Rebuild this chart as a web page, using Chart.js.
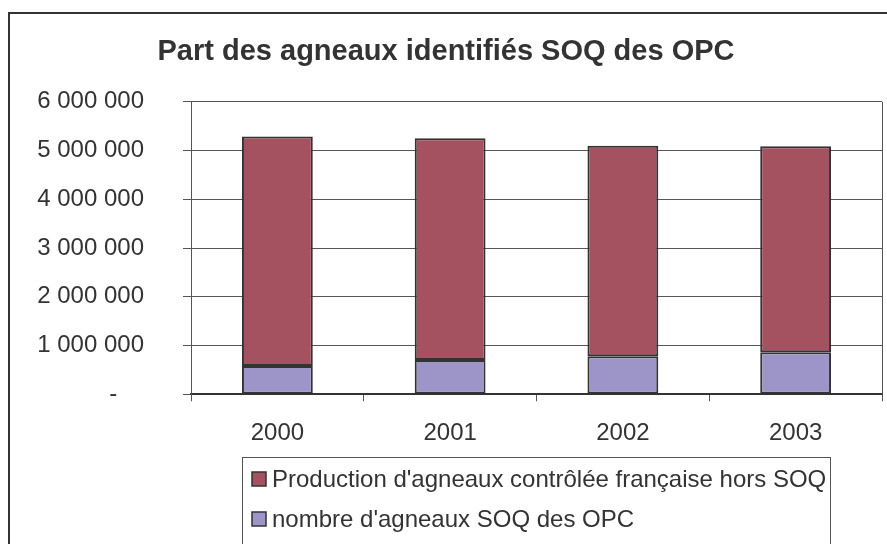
<!DOCTYPE html>
<html>
<head>
<meta charset="utf-8">
<script src="https://cdn.jsdelivr.net/npm/chart.js@4/dist/chart.umd.min.js"></script>
<style>
  html, body { margin: 0; padding: 0; background: #fff; }
  #chart { display: block; }
</style>
</head>
<body>
<canvas id="chart" width="887" height="544"></canvas>
<script>
// values
const years = ['2000', '2001', '2002', '2003']
const soqOpc = [580000, 700000, 780000, 860000]
const horsSoq = [4710000, 4550000, 4320000, 4230000]
const yTicks = [0, 1000000, 2000000, 3000000, 4000000, 5000000, 6000000]

const labelSoq = "nombre d'agneaux SOQ des OPC"
const labelHors = "Production d'agneaux contrôlée française hors SOQ"

const FONT = "'Liberation Sans', Arial, sans-serif"
const TEXT = '#333333'

function formatNumber(v) {
    if (v === 0) return '-    '
    return String(v).replace(/\B(?=(\d{3})+(?!\d))/g, ' ')
}

// outer frame, plot area right edge, boxed legend
const excelChrome = {
    id: 'excelChrome',
    beforeDraw(chart) {
        const ctx = chart.ctx
        ctx.save()
        ctx.fillStyle = '#ffffff'
        ctx.fillRect(0, 0, chart.width, chart.height)
        ctx.strokeStyle = '#333333'
        ctx.lineWidth = 2
        ctx.strokeRect(9, 13, chart.width + 20, chart.height + 20)
        ctx.restore()
    },
    afterDraw(chart) {
        const ctx = chart.ctx
        const area = chart.chartArea
        ctx.save()
        ctx.strokeStyle = '#555555'
        ctx.lineWidth = 1
        ctx.beginPath()
        ctx.moveTo(Math.round(area.right) + 0.5, area.top)
        ctx.lineTo(Math.round(area.right) + 0.5, area.bottom)
        ctx.stroke()

        // legend box
        ctx.strokeStyle = '#555555'
        ctx.strokeRect(242.5, 457.5, 588, 100)
        const items = chart.data.datasets.slice().reverse()
        ctx.font = '24px ' + FONT
        ctx.textBaseline = 'middle'
        items.forEach((ds, i) => {
            const cy = 479 + i * 40
            ctx.fillStyle = ds.backgroundColor
            ctx.fillRect(252, cy - 7, 14, 14)
            ctx.strokeStyle = '#333333'
            ctx.lineWidth = 1.5
            ctx.strokeRect(252, cy - 7, 14, 14)
            ctx.fillStyle = TEXT
            ctx.fillText(ds.label, 272, cy + 1)
        })
        ctx.restore()
    }
}

const chart = new Chart(document.getElementById('chart').getContext('2d'), {
    type: 'bar',
    data: {
        labels: years,
        datasets: [
            {
                label: labelSoq,
                data: soqOpc,
                backgroundColor: '#9D95C8',
                borderColor: '#333333',
                borderWidth: 2,
                borderSkipped: false
            },
            {
                label: labelHors,
                data: horsSoq,
                backgroundColor: '#A55260',
                borderColor: '#333333',
                borderWidth: 2,
                borderSkipped: false
            }
        ]
    },
    options: {
        responsive: false,
        animation: false,
        devicePixelRatio: 1,
        categoryPercentage: 1,
        barPercentage: 0.41,
        layout: { padding: { top: 12, right: 5, bottom: 78, left: 10 } },
        plugins: {
            legend: { display: false },
            tooltip: { enabled: false },
            title: {
                display: true,
                text: 'Part des agneaux identifiés SOQ des OPC',
                color: TEXT,
                font: { family: FONT, size: 29, weight: 'bold' },
                padding: { top: 23, bottom: 32 }
            }
        },
        scales: {
            x: {
                stacked: true,
                grid: {
                    offset: true,
                    drawOnChartArea: false,
                    drawTicks: true,
                    tickLength: 7,
                    color: '#555555'
                },
                border: { display: true, color: '#333333', width: 2 },
                ticks: {
                    color: TEXT,
                    padding: 18,
                    font: { family: FONT, size: 24 }
                }
            },
            y: {
                stacked: true,
                min: 0,
                max: 6000000,
                afterBuildTicks: (scale) => {
                    scale.ticks = yTicks.map((v) => ({ value: v }))
                },
                afterFit: (scale) => {
                    scale.width = 181
                },
                grid: {
                    color: '#555555',
                    tickLength: 8
                },
                border: { display: true, color: '#555555', width: 1 },
                ticks: {
                    color: TEXT,
                    padding: 39,
                    font: { family: FONT, size: 24 },
                    callback: (value) => formatNumber(value)
                }
            }
        }
    },
    plugins: [excelChrome]
})
</script>
</body>
</html>
